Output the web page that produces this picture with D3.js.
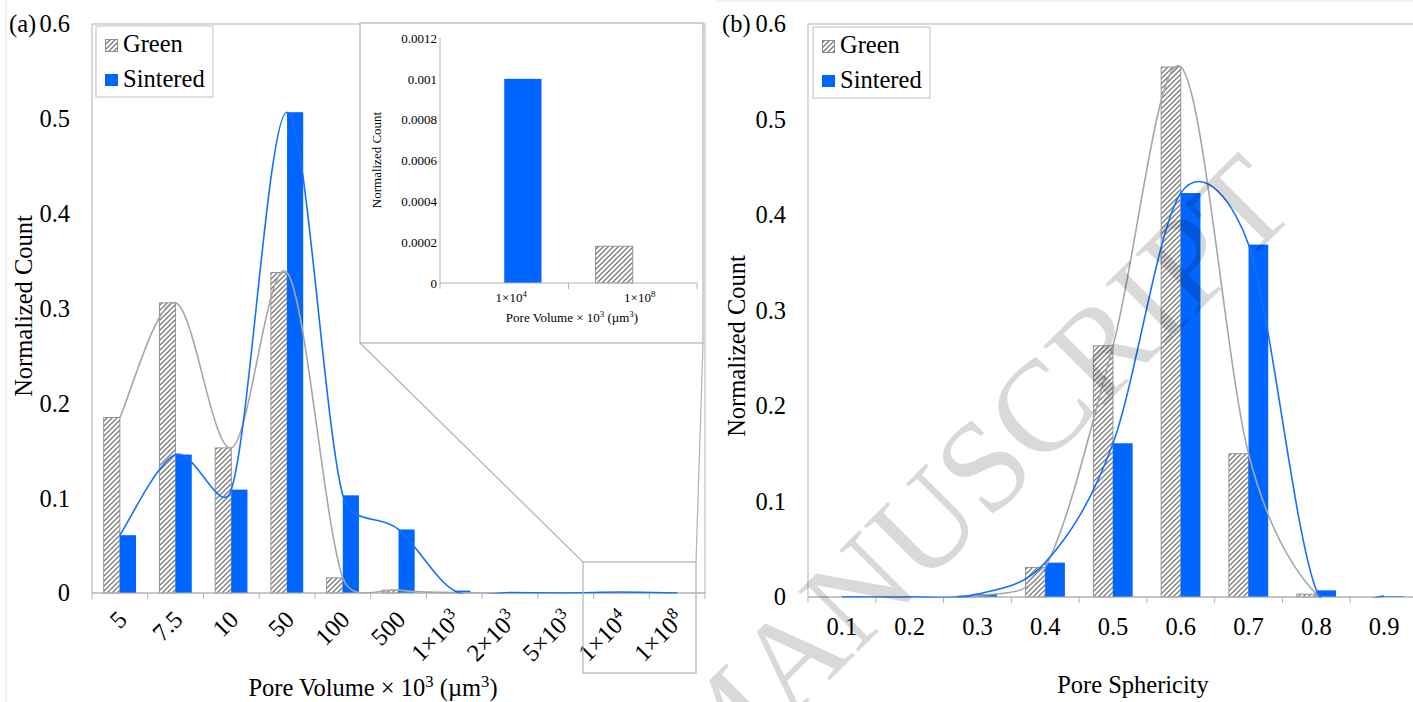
<!DOCTYPE html>
<html><head><meta charset="utf-8">
<script src="https://cdn.jsdelivr.net/npm/d3@7"></script>
<style>
body{margin:0;background:#fff}
svg{display:block}
text{font-family:"Liberation Serif","Times New Roman",serif;fill:#000}
</style>
</head><body>
<svg id="c" width="1413" height="702"></svg>
<script>
// ---------- data ----------
const catsA = ["5","7.5","10","50","100","500","1×10^{3}","2×10^{3}","5×10^{3}","1×10^{4}","1×10^{8}"];
const greenA = [0.185,0.306,0.153,0.338,0.016,0.003,0.0005,0,0,0,0.00018];
const sinteredA = [0.061,0.146,0.109,0.507,0.103,0.067,0.0025,0.0005,0,0.001,0];
const ticksA = [0,0.1,0.2,0.3,0.4,0.5,0.6];

const insetCats = ["1×10^{4}","1×10^{8}"];
const insetGreen = [0,0.00018];
const insetSintered = [0.001,0];
const insetTicks = [0,0.0002,0.0004,0.0006,0.0008,0.001,0.0012];

const catsB = ["0.1","0.2","0.3","0.4","0.5","0.6","0.7","0.8","0.9"];
const greenB = [0,0,0.001,0.031,0.263,0.555,0.150,0.003,0];
const sinteredB = [0,0,0.003,0.036,0.161,0.423,0.369,0.007,0.001];
const ticksB = [0,0.1,0.2,0.3,0.4,0.5,0.6];

const seriesNames = ["Green","Sintered"];
const titleA = "Pore Volume × 10^{3} (µm^{3})";
const titleB = "Pore Sphericity";
const yTitle = "Normalized Count";

// ---------- style ----------
const BLUE = "#0066ff", LINEBLUE = "#1470ff", LINEGRAY = "#a6a6a6", AXIS = "#b3b3b3";
const FONT = "Liberation Serif, Times New Roman, serif";
const FS = 24.5;

const svg = d3.select("#c");
const defs = svg.append("defs");
const pat = defs.append("pattern").attr("id","hatch").attr("patternUnits","userSpaceOnUse")
  .attr("width",5).attr("height",5);
pat.append("rect").attr("width",5).attr("height",5).attr("fill","#fff");
pat.append("path").attr("d","M0,5 L5,0 M-1,1 L1,-1 M4,6 L6,4")
  .attr("stroke","#7a7a7a").attr("stroke-width",1.3);

// text with ^{...} superscripts
function richText(sel, str, size){
  const parts = str.split(/\^\{([^}]*)\}/);
  sel.text(null);
  const shift = size*0.38;
  let raised = false;
  parts.forEach((p,i)=>{
    if(p==="") return;
    const t = sel.append("tspan").text(p);
    if(i%2===1){ t.attr("font-size", size*0.68).attr("dy", -shift); raised = true; }
    else { if(raised){ t.attr("dy", shift); raised=false; } }
  });
}

// Excel-like smoothed line (Bezier, handles = 1/6 of neighbour chord, capped at half segment)
function smoothPath(pts){
  const p = d3.path();
  const dist = (a,b)=>Math.hypot(b[0]-a[0],b[1]-a[1]);
  p.moveTo(pts[0][0],pts[0][1]);
  for(let i=0;i<pts.length-1;i++){
    const P0 = pts[i-1]||pts[i], P1 = pts[i], P2 = pts[i+1], P3 = pts[i+2]||pts[i+1];
    const d12 = dist(P1,P2);
    const L1 = dist(P0,P2)||1, L2 = dist(P1,P3)||1;
    const f1 = Math.min(1/6, d12/(2*L1)), f2 = Math.min(1/6, d12/(2*L2));
    const c1 = [P1[0]+(P2[0]-P0[0])*f1, P1[1]+(P2[1]-P0[1])*f1];
    const c2 = [P2[0]-(P3[0]-P1[0])*f2, P2[1]-(P3[1]-P1[1])*f2];
    p.bezierCurveTo(c1[0],c1[1],c2[0],c2[1],P2[0],P2[1]);
  }
  return p.toString();
}

let clipN = 0;
function panel(cfg){
  const g = svg.append("g");
  const x = d3.scaleBand().domain(cfg.cats).range([cfg.left,cfg.right]);
  const y = d3.scaleLinear().domain([0,cfg.yMax]).range([cfg.bottom,cfg.top]);
  const bw = x.bandwidth()*0.29;
  const cx = c => x(c)+x.bandwidth()/2;

  if(cfg.border){
    g.append("rect").attr("x",cfg.left).attr("y",cfg.top)
      .attr("width",cfg.right-cfg.left).attr("height",cfg.bottom-cfg.top)
      .attr("fill","none").attr("stroke",AXIS).attr("stroke-width",1);
  } else {
    g.append("line").attr("x1",cfg.left).attr("x2",cfg.left).attr("y1",cfg.top).attr("y2",cfg.bottom)
      .attr("stroke",AXIS);
  }
  // y axis labels
  const ya = g.append("g").attr("transform",`translate(${cfg.left},0)`)
    .call(d3.axisLeft(y).tickValues(cfg.ticks).tickSize(0).tickPadding(cfg.tickPad).tickFormat(d=>String(d)));
  ya.select(".domain").remove();
  ya.selectAll("text").attr("font-family",FONT).attr("font-size",cfg.fs).attr("fill","#000");

  // bars
  g.selectAll(".bg").data(cfg.cats).join("rect")
    .attr("x",c=>cx(c)-bw).attr("width",bw)
    .attr("y",(c,i)=>y(cfg.green[i])).attr("height",(c,i)=>cfg.bottom-y(cfg.green[i]))
    .attr("fill","url(#hatch)").attr("stroke","#8c8c8c").attr("stroke-width",0.9);
  g.selectAll(".bs").data(cfg.cats).join("rect")
    .attr("x",c=>cx(c)).attr("width",bw)
    .attr("y",(c,i)=>y(cfg.sint[i])).attr("height",(c,i)=>cfg.bottom-y(cfg.sint[i]))
    .attr("fill",BLUE);

  // x axis line + ticks
  g.append("line").attr("x1",cfg.left).attr("x2",cfg.right).attr("y1",cfg.bottom).attr("y2",cfg.bottom)
    .attr("stroke",AXIS);
  const bounds = cfg.cats.map(c=>x(c)).concat([cfg.right]);
  g.selectAll(".tk").data(bounds).join("line")
    .attr("x1",d=>d).attr("x2",d=>d).attr("y1",cfg.bottom).attr("y2",cfg.bottom+6).attr("stroke",AXIS);

  // curves (clipped to plot area)
  if(cfg.curves){
    const id = "clip"+(clipN++);
    defs.append("clipPath").attr("id",id).append("rect")
      .attr("x",cfg.left).attr("y",cfg.top).attr("width",cfg.right-cfg.left).attr("height",cfg.bottom-cfg.top+0.5);
    const cg = g.append("g").attr("clip-path",`url(#${id})`);
    cg.append("path").attr("d",smoothPath(cfg.cats.map((c,i)=>[cx(c),y(cfg.green[i])])))
      .attr("fill","none").attr("stroke",LINEGRAY).attr("stroke-width",1.6);
    cg.append("path").attr("d",smoothPath(cfg.cats.map((c,i)=>[cx(c),y(cfg.sint[i])])))
      .attr("fill","none").attr("stroke",LINEBLUE).attr("stroke-width",1.6);
  }

  // x labels
  cfg.cats.forEach(c=>{
    const t = g.append("text").attr("font-size",cfg.fs);
    if(cfg.rotate){
      t.attr("text-anchor","end").attr("transform",`translate(${cx(c)+cfg.lblDx},${cfg.lblY}) rotate(-45)`);
    } else {
      t.attr("text-anchor","middle").attr("x",cx(c)+cfg.lblDx).attr("y",cfg.lblY);
    }
    richText(t,c,cfg.fs);
  });

  // titles
  const xt = g.append("text").attr("font-size",cfg.fs).attr("text-anchor","middle")
    .attr("x",cfg.xtX).attr("y",cfg.xtY);
  richText(xt,cfg.xTitle,cfg.fs);
  g.append("text").attr("font-size",cfg.fs).attr("text-anchor","middle")
    .attr("transform",`translate(${cfg.ytX},${cfg.ytY}) rotate(-90)`).text(yTitle);

  // legend
  if(cfg.legend){
    const L = cfg.legend;
    g.append("rect").attr("x",L.x).attr("y",L.y).attr("width",117).attr("height",71)
      .attr("fill","#fff").attr("stroke","#bfbfbf");
    g.append("rect").attr("x",L.x+9.5).attr("y",L.y+13.5).attr("width",12).attr("height",12)
      .attr("fill","url(#hatch)").attr("stroke","#8c8c8c");
    g.append("rect").attr("x",L.x+9).attr("y",L.y+48).attr("width",13).attr("height",12).attr("fill",BLUE);
    g.append("text").attr("font-size",FS).attr("x",L.x+27).attr("y",L.y+26).text(seriesNames[0]);
    g.append("text").attr("font-size",FS).attr("x",L.x+27).attr("y",L.y+61).text(seriesNames[1]);
  }
  if(cfg.tag){
    g.append("text").attr("font-size",FS).attr("x",cfg.tag.x).attr("y",cfg.tag.y).text(cfg.tag.t);
  }
  return {x,y};
}

// faint outer frames
svg.append("line").attr("x1",6).attr("x2",6).attr("y1",0).attr("y2",702).attr("stroke","#e3e3e3");
svg.append("line").attr("x1",715).attr("x2",1413).attr("y1",1).attr("y2",1).attr("stroke","#e3e3e3");

// Panel (a)
panel({left:92,right:705,top:24,bottom:593,cats:catsA,green:greenA,sint:sinteredA,yMax:0.6,ticks:ticksA,
  tickPad:22,fs:FS,border:true,curves:true,rotate:true,lblDx:8.5,lblY:621,
  xTitle:titleA,xtX:373,xtY:696,ytX:32,ytY:306,legend:{x:96,y:26},tag:{x:9,y:32,t:"(a)"}});

// zoom box + connectors
svg.append("rect").attr("x",583).attr("y",562).attr("width",113).attr("height",111)
  .attr("fill","none").attr("stroke","#b3b3b3").attr("stroke-width",1.2);
svg.append("line").attr("x1",583).attr("y1",562).attr("x2",360).attr("y2",343).attr("stroke","#b3b3b3").attr("stroke-width",1.2);
svg.append("line").attr("x1",696).attr("y1",562).attr("x2",703).attr("y2",343).attr("stroke","#b3b3b3").attr("stroke-width",1.2);

// inset
svg.append("rect").attr("x",360).attr("y",23).attr("width",343).attr("height",320)
  .attr("fill","#fff").attr("stroke","#b3b3b3").attr("stroke-width",1.2);
panel({left:440,right:697,top:38,bottom:283,cats:insetCats,green:insetGreen,sint:insetSintered,yMax:0.0012,
  ticks:insetTicks,tickPad:3,fs:13,border:false,curves:false,rotate:false,lblDx:7,lblY:302,
  xTitle:titleA,xtX:572,xtY:322,ytX:381,ytY:160});

// Panel (b)
panel({left:808,right:1418,top:24,bottom:597,cats:catsB,green:greenB,sint:sinteredB,yMax:0.6,ticks:ticksB,
  tickPad:22,fs:FS,border:true,curves:true,rotate:false,lblDx:0,lblY:635,
  xTitle:titleB,xtX:1133,xtY:693,ytX:745,ytY:346,legend:{x:813,y:27},tag:{x:722,y:32,t:"(b)"}});

// watermark
svg.append("text").attr("font-size",130).attr("text-anchor","end")
  .attr("transform","translate(1300,210) rotate(-45)")
  .attr("fill","#808080").attr("fill-opacity",0.15)
  .text("ACCEPTED MANUSCRIPT");
</script>
</body></html>
